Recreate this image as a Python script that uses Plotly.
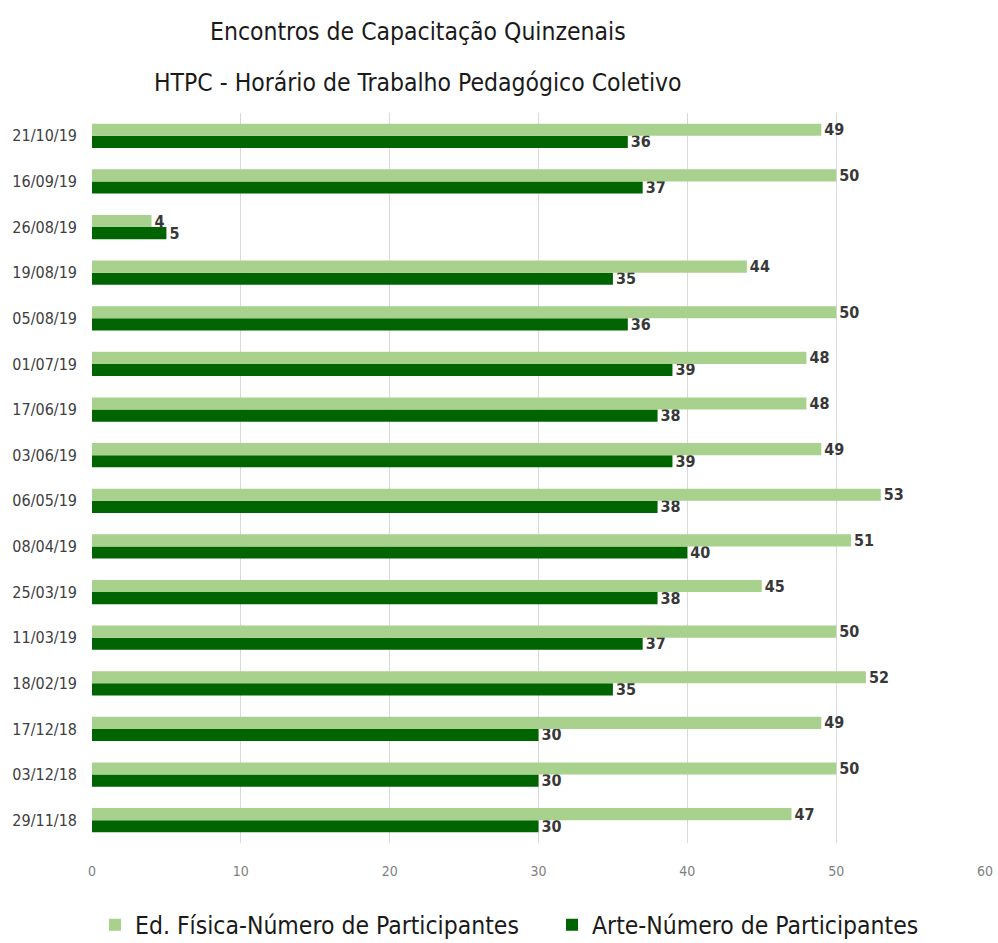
import plotly.graph_objects as go

dates = ["29/11/18", "03/12/18", "17/12/18", "18/02/19", "11/03/19", "25/03/19",
         "08/04/19", "06/05/19", "03/06/19", "17/06/19", "01/07/19", "05/08/19",
         "19/08/19", "26/08/19", "16/09/19", "21/10/19"]
ed_fisica = [47, 50, 49, 52, 50, 45, 51, 53, 49, 48, 48, 50, 44, 4, 50, 49]
arte = [30, 30, 30, 35, 37, 38, 40, 38, 39, 38, 39, 36, 35, 5, 37, 36]
title_lines = ["Encontros de Capacitação Quinzenais",
               "HTPC - Horário de Trabalho Pedagógico Coletivo"]

FONT = "DejaVu Sans Condensed, Liberation Sans Narrow, sans-serif"
LABEL_FONT = dict(family=FONT, size=16, color="#383838", weight="bold")
LEGEND_FONT = dict(family=FONT, size=24.5, color="#1a1a1a")

fig = go.Figure()
fig.add_trace(go.Bar(
    y=dates, x=arte, orientation="h", name="Arte-Número de Participantes",
    marker_color="#006400", marker_line_width=0,
    text=arte, textposition="outside", constraintext="none",
    textfont=LABEL_FONT, cliponaxis=False, legend="legend2",
))
fig.add_trace(go.Bar(
    y=dates, x=ed_fisica, orientation="h", name="Ed. Física-Número de Participantes",
    marker_color="#a9d18e", marker_line_width=0,
    text=ed_fisica, textposition="outside", constraintext="none",
    textfont=LABEL_FONT, cliponaxis=False, legend="legend",
))

fig.update_layout(
    width=998, height=943,
    barmode="group", bargap=0.47, bargroupgap=0,
    paper_bgcolor="white", plot_bgcolor="white",
    margin=dict(l=92, r=13, t=113, b=100, autoexpand=False),
    font=dict(family=FONT),
    xaxis=dict(
        range=[0, 60], dtick=10, showgrid=True, gridcolor="#d9d9d9", gridwidth=1,
        zeroline=False, showline=False, ticks="", automargin=False,
        tickfont=dict(family=FONT, size=14, color="#7f7f7f"),
        ticklabelstandoff=18,
    ),
    yaxis=dict(
        showgrid=False, zeroline=False, showline=False, ticks="", automargin=False,
        tickfont=dict(family=FONT, size=16, color="#404040"),
        ticklabelstandoff=14,
    ),
    legend=dict(
        orientation="h", x=(95 - 92) / 893, xanchor="left", y=-0.112, yanchor="middle",
        font=LEGEND_FONT, itemwidth=30,
    ),
    legend2=dict(
        orientation="h", x=(552 - 92) / 893, xanchor="left", y=-0.112, yanchor="middle",
        font=LEGEND_FONT, itemwidth=30,
    ),
    showlegend=True,
)

for txt, ypx in zip(title_lines, [32, 82]):
    fig.add_annotation(
        text=txt, xref="paper", yref="paper",
        x=(418 - 92) / 893, y=(843 - ypx) / 730,
        xanchor="center", yanchor="middle", showarrow=False,
        font=dict(family=FONT, size=24.5, color="#1a1a1a"),
    )

fig.write_html(
    "out.html",
    config={"displayModeBar": False},
    post_script="document.body.style.margin='0';document.body.style.overflow='hidden';",
)
